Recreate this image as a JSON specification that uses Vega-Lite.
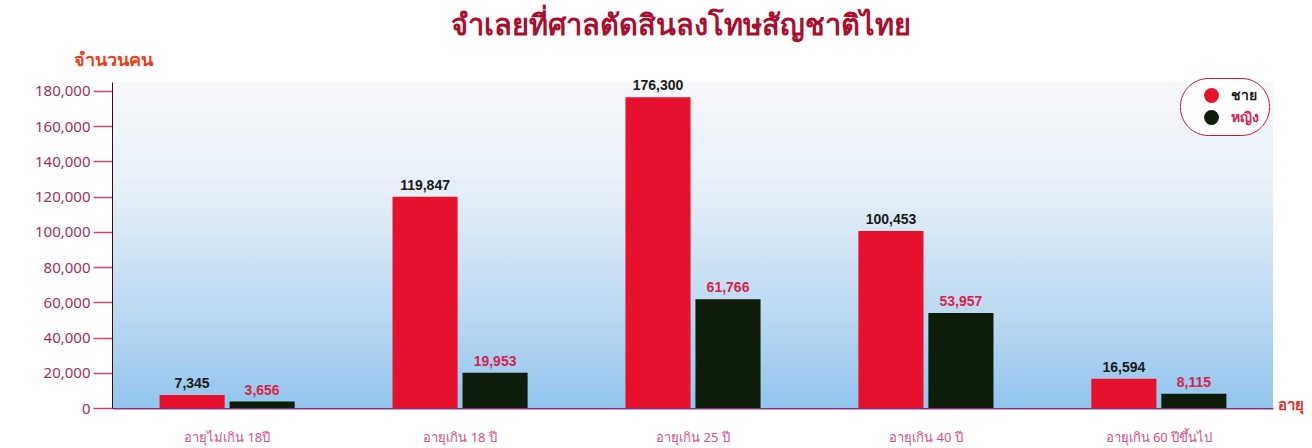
{
  "$schema": "https://vega.github.io/schema/vega-lite/v6.json",
  "width": 1160,
  "height": 326,
  "autosize": {"type": "none"},
  "padding": {"left": 113, "top": 82, "right": 39, "bottom": 40},
  "background": "white",
  "title": {
    "text": "จำเลยที่ศาลตัดสินลงโทษสัญชาติไทย",
    "color": "#a80f2e",
    "fontSize": 29,
    "fontWeight": "bold",
    "anchor": "middle",
    "dx": -12,
    "offset": 10,
    "font": "Noto Sans"
  },
  "config": {
    "view": {"stroke": null},
    "font": "Noto Sans"
  },
  "datasets": {
    "main": [
      {"age": "อายุไม่เกิน 18ปี", "sex": "ชาย", "n": 7345},
      {"age": "อายุไม่เกิน 18ปี", "sex": "หญิง", "n": 3656},
      {"age": "อายุเกิน 18 ปี", "sex": "ชาย", "n": 119847},
      {"age": "อายุเกิน 18 ปี", "sex": "หญิง", "n": 19953},
      {"age": "อายุเกิน 25 ปี", "sex": "ชาย", "n": 176300},
      {"age": "อายุเกิน 25 ปี", "sex": "หญิง", "n": 61766},
      {"age": "อายุเกิน 40 ปี", "sex": "ชาย", "n": 100453},
      {"age": "อายุเกิน 40 ปี", "sex": "หญิง", "n": 53957},
      {"age": "อายุเกิน 60 ปีขึ้นไป", "sex": "ชาย", "n": 16594},
      {"age": "อายุเกิน 60 ปีขึ้นไป", "sex": "หญิง", "n": 8115}
    ],
    "bg": [{"k": 1}]
  },
  "layer": [
    {
      "data": {"name": "bg"},
      "mark": {"type": "rect", "color": {"gradient": "linear", "x1": 0, "y1": 0, "x2": 0, "y2": 1,
        "stops": [{"offset": 0, "color": "#f7f8fa"}, {"offset": 0.35, "color": "#e4eef7"}, {"offset": 0.7, "color": "#bcdaf2"}, {"offset": 1, "color": "#92c5ee"}]}},
      "encoding": {}
    },
    {
      "data": {"name": "main"},
      "encoding": {
        "x": {
          "field": "age", "type": "nominal", "sort": null,
          "scale": {"paddingInner": 0.42, "paddingOuter": 0.2},
          "axis": {
            "title": "อายุ",
            "titleColor": "#e0302a",
            "titleFontSize": 15,
            "titleFontWeight": "bold",
            "titleAnchor": "end",
            "titleAlign": "left",
            "titleBaseline": "middle",
            "titleX": 1164,
            "titleY": -4,
            "labelAngle": 0,
            "labelColor": "#d4508a",
            "labelFontSize": 13,
            "labelPadding": 23,
            "ticks": false,
            "domainColor": "#7a3a82",
            "domainWidth": 2
          }
        },
        "xOffset": {"field": "sex", "type": "nominal", "sort": ["ชาย", "หญิง"], "scale": {"paddingInner": 0.07}},
        "y": {
          "field": "n", "type": "quantitative",
          "scale": {"domain": [0, 185000], "nice": false},
          "axis": {
            "title": "จำนวนคน",
            "titleAngle": 0,
            "titleAlign": "center",
            "titleBaseline": "middle",
            "titleX": 0,
            "titleY": -22,
            "titleColor": "#e8401c",
            "titleFontSize": 18,
            "titleFontWeight": "bold",
            "values": [0, 20000, 40000, 60000, 80000, 100000, 120000, 140000, 160000, 180000],
            "format": ",d",
            "grid": false,
            "labelColor": "#a0305e",
            "labelFontSize": 15,
            "labelPadding": 3,
            "tickSize": 20,
            "tickColor": "#d04072",
            "tickWidth": 1.5,
            "domainColor": "#3a0a12",
            "domainWidth": 3
          }
        }
      },
      "layer": [
        {
          "mark": {"type": "bar"},
          "encoding": {
            "color": {
              "field": "sex", "type": "nominal",
              "scale": {"domain": ["ชาย", "หญิง"], "range": ["#e8112d", "#0e1c0a"]},
              "legend": {
                "title": null,
                "orient": "none",
                "legendX": 1067,
                "legendY": -4,
                "strokeColor": "#c01a3a",
                "cornerRadius": 28,
                "padding": 10,
                "symbolOffset": 14,
                "symbolType": "circle",
                "symbolSize": 220,
                "symbolStrokeWidth": 0,
                "labelOffset": 12,
                "labelFontSize": 14,
                "labelFontWeight": "bold",
                "labelColor": {"expr": "datum.label == 'ชาย' ? '#1a1a1a' : '#d8244a'"},
                "rowPadding": 7,
                "fillColor": "white"
              }
            }
          }
        },
        {
          "mark": {"type": "text", "dy": -11, "fontSize": 14, "fontWeight": "bold", "font": "Liberation Sans"},
          "encoding": {
            "text": {"field": "n", "type": "quantitative", "format": ","},
            "color": {"condition": {"test": "datum.sex == 'ชาย'", "value": "#1a1a1a"}, "value": "#d8244a"}
          }
        }
      ]
    }
  ]
}
